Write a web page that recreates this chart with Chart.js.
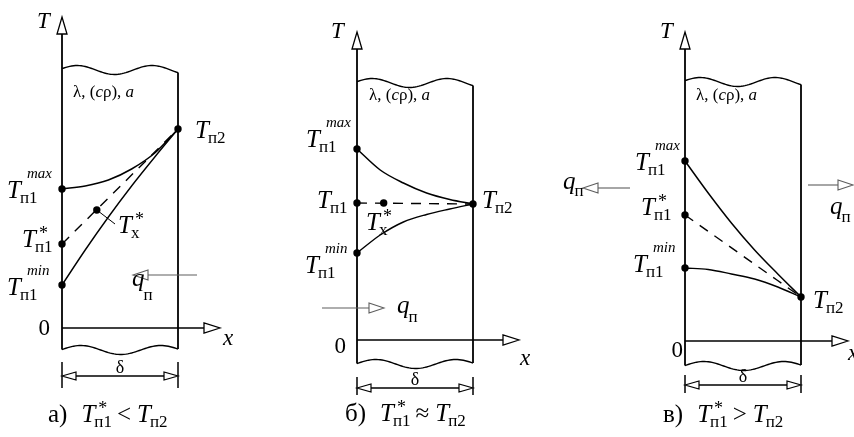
<!DOCTYPE html>
<html>
<head>
<meta charset="utf-8">
<script src="https://cdn.jsdelivr.net/npm/chart.js@4.4.1/dist/chart.umd.min.js"></script>
<style>
  body { margin: 0; background: #fff; width: 854px; height: 437px; overflow: hidden; position: relative; }
  canvas { position: absolute; top: 0; }
</style>
</head>
<body>
<canvas id="pa" width="284" height="437" style="left:0"></canvas>
<canvas id="pb" width="270" height="437" style="left:284px"></canvas>
<canvas id="pc" width="300" height="437" style="left:554px"></canvas>
<script>
// x as a fraction of the wall thickness δ
const xPos = [0, 0.2, 0.4, 0.6, 0.8, 1];

// а) T*п1 < Tп2
const aMaxCurve = [13.9, 14.2, 14.8, 15.9, 17.5, 19.9];
const aMinCurve = [4.3, 7.8, 11.1, 14.2, 17.1, 19.9];
const aStarLine = [8.4, 19.9];
const aTx = [0.3, 11.8];

// б) T*п1 ≈ Tп2
const bMaxCurve = [19.1, 17.0, 15.7, 14.7, 14.05, 13.6];
const bMinCurve = [8.7, 10.5, 11.8, 12.55, 13.1, 13.6];
const bStarLine = [13.7, 13.6];
const bTx = [0.23, 13.7];

// в) T*п1 > Tп2
const cMaxCurve = [18.0, 14.8, 11.8, 9.1, 6.7, 4.4];
const cMinCurve = [7.3, 7.15, 6.7, 6.2, 5.4, 4.4];
const cStarLine = [12.6, 4.4];

const SERIF = '"Liberation Serif", "Times New Roman", serif';
const GREY = '#5e5e5e';

function waveY(yc, t, amp, cycles, phase) {
  return yc - amp * Math.sin(2 * Math.PI * cycles * t + phase);
}

function wave(ctx, x0, x1, yc, amp, cycles, phase) {
  ctx.beginPath();
  for (let i = 0; i <= 60; i++) {
    const t = i / 60;
    const x = x0 + (x1 - x0) * t, y = waveY(yc, t, amp, cycles, phase);
    i ? ctx.lineTo(x, y) : ctx.moveTo(x, y);
  }
  ctx.stroke();
}

function seg(ctx, x0, y0, x1, y1) {
  ctx.beginPath();
  ctx.moveTo(x0, y0);
  ctx.lineTo(x1, y1);
  ctx.stroke();
}

// hollow arrow head, tip at (tx, ty); (ux, uy) points toward the tip
function head(ctx, tx, ty, ux, uy, len, half) {
  const bx = tx - ux * len, by = ty - uy * len;
  ctx.beginPath();
  ctx.moveTo(tx, ty);
  ctx.lineTo(bx - uy * half, by + ux * half);
  ctx.lineTo(bx + uy * half, by - ux * half);
  ctx.closePath();
  ctx.fillStyle = '#fff';
  ctx.fill();
  ctx.stroke();
}

// italic letter with optional superscript and subscript, returns right edge
function sym(ctx, x, y, main, sup, sub, subDy) {
  ctx.font = `italic 25px ${SERIF}`;
  ctx.fillText(main, x, y);
  const w = ctx.measureText(main).width;
  let end = x + w;
  if (sup) {
    const star = sup === '*';
    ctx.font = star ? `18px ${SERIF}` : `italic 15px ${SERIF}`;
    const sx = x + w + (star ? 3 : 6);
    ctx.fillText(sup, sx, y + (star ? -8 : -20));
    end = Math.max(end, sx + ctx.measureText(sup).width);
  }
  if (sub) {
    ctx.font = `17px ${SERIF}`;
    const sx = x + w - 1;
    ctx.fillText(sub, sx, y + (subDy == null ? 5 : subDy));
    end = Math.max(end, sx + ctx.measureText(sub).width);
  }
  return end;
}

function makeDecor(d) {
  return {
    id: 'decor',
    beforeDatasetsDraw(chart) {
      const ctx = chart.ctx;
      const { left: L, right: R, top: Tp, bottom: B } = chart.chartArea;
      const wb = B + d.waveBottom;
      ctx.save();
      ctx.strokeStyle = '#000';
      ctx.lineWidth = 1.4;
      wave(ctx, L, R, Tp, 4.5, 1.55, 0.3);
      wave(ctx, L, R, wb, 4.5, 1.45, 0.1);
      ctx.lineWidth = 1.8;
      // T axis along the left face
      seg(ctx, L, waveY(wb, 0, 4.5, 1.45, 0.1), L, B + d.tTip + 17);
      ctx.lineWidth = 1.3;
      head(ctx, L, B + d.tTip, 0, -1, 17, 5);
      ctx.lineWidth = 1.8;
      // right face
      seg(ctx, R, waveY(Tp, 1, 4.5, 1.55, 0.3), R, waveY(wb, 1, 4.5, 1.45, 0.1));
      // x axis
      ctx.lineWidth = 1.5;
      seg(ctx, L, B, L + d.xTip - 16, B);
      ctx.lineWidth = 1.3;
      head(ctx, L + d.xTip, B, 1, 0, 16, 5);
      // thickness δ
      ctx.lineWidth = 1.5;
      seg(ctx, L, B + d.dimTop, L, B + d.dimBottom);
      seg(ctx, R, B + d.dimTop, R, B + d.dimBottom);
      seg(ctx, L + 14, B + d.dim, R - 14, B + d.dim);
      ctx.lineWidth = 1.2;
      head(ctx, L, B + d.dim, -1, 0, 14, 4);
      head(ctx, R, B + d.dim, 1, 0, 14, 4);
      // heat flux arrows
      ctx.strokeStyle = GREY;
      ctx.lineWidth = 1.1;
      d.flux.forEach(f => {
        const dir = Math.sign(f.tip - f.from);
        seg(ctx, L + f.from, B + f.dy, L + f.tip - dir * 15, B + f.dy);
        head(ctx, L + f.tip, B + f.dy, dir, 0, 15, 5);
      });
      ctx.restore();
    },
    afterDatasetsDraw(chart) {
      const ctx = chart.ctx;
      const { left: L, right: R, bottom: B } = chart.chartArea;
      const sx = chart.scales.x, sy = chart.scales.y;
      ctx.save();
      ctx.fillStyle = '#000';
      ctx.strokeStyle = '#000';
      ctx.textBaseline = 'alphabetic';

      if (d.leader) {
        ctx.lineWidth = 1;
        seg(ctx, sx.getPixelForValue(d.leader.x), sy.getPixelForValue(d.leader.y),
          L + d.leader.dx, B + d.leader.dy);
      }

      ctx.font = `italic 23px ${SERIF}`;
      ctx.fillText('T', L + d.axisT[0], B + d.axisT[1]);
      ctx.fillText('x', L + d.xLabel[0], B + d.xLabel[1]);
      ctx.font = `23px ${SERIF}`;
      ctx.textAlign = 'right';
      ctx.fillText('0', L + d.zero[0], B + d.zero[1]);
      ctx.textAlign = 'center';
      ctx.font = `18px ${SERIF}`;
      ctx.fillText('δ', (L + R) / 2, B + d.dim - 3);
      ctx.textAlign = 'left';

      // material properties
      let x = L + d.props[0];
      const py = B + d.props[1];
      [['λ, (', ''], ['c', 'italic '], ['ρ), ', ''], ['a', 'italic ']].forEach(([t, st]) => {
        ctx.font = `${st}17px ${SERIF}`;
        ctx.fillText(t, x, py);
        x += ctx.measureText(t).width;
      });

      d.labels.forEach(l => sym(ctx, L + l.dx, B + l.dy, l.main || 'T', l.sup, l.sub, l.subDy));

      // caption
      ctx.font = `25px ${SERIF}`;
      let cx = L + d.caption.dx;
      const cy = B + d.caption.dy;
      ctx.fillText(d.caption.tag, cx, cy);
      cx += ctx.measureText(d.caption.tag).width + 14;
      cx = sym(ctx, cx, cy, 'T', '*', 'п1', 5) + 5;
      ctx.font = `25px ${SERIF}`;
      ctx.fillText(d.caption.rel, cx, cy);
      cx += ctx.measureText(d.caption.rel).width + 6;
      sym(ctx, cx, cy, 'T', null, 'п2', 5);
      ctx.restore();
    }
  };
}

function makePanel(id, cfg) {
  const curve = arr => xPos.map((x, i) => ({ x, y: arr[i] }));
  const pts = [
    { x: 0, y: cfg.max[0] }, { x: 0, y: cfg.min[0] },
    { x: 0, y: cfg.star[0] }, { x: 1, y: cfg.star[1] }
  ];
  if (cfg.tx) pts.push({ x: cfg.tx[0], y: cfg.tx[1] });
  const lineStyle = { showLine: true, pointRadius: 0, borderColor: '#000', clip: false,
    cubicInterpolationMode: 'monotone' };
  return new Chart(document.getElementById(id), {
    type: 'scatter',
    data: {
      datasets: [
        { ...lineStyle, data: curve(cfg.max), borderWidth: 1.5 },
        { ...lineStyle, data: curve(cfg.min), borderWidth: 1.4 },
        { ...lineStyle, data: [{ x: 0, y: cfg.star[0] }, { x: 1, y: cfg.star[1] }],
          borderWidth: 1.4, borderDash: [10, 8] },
        { data: pts, pointRadius: 3.7, pointBackgroundColor: '#000', pointBorderWidth: 0,
          clip: false }
      ]
    },
    options: {
      responsive: false,
      animation: false,
      events: [],
      layout: { padding: cfg.pad },
      scales: {
        x: { type: 'linear', min: 0, max: 1, display: false },
        y: { type: 'linear', min: 0, max: cfg.yMax, display: false }
      },
      plugins: { legend: { display: false }, tooltip: { enabled: false } }
    },
    plugins: [makeDecor(cfg.decor)]
  });
}

makePanel('pa', {
  pad: { left: 62, right: 106, top: 70, bottom: 109 }, yMax: 25.8,
  max: aMaxCurve, min: aMinCurve, star: aStarLine, tx: aTx,
  decor: {
    waveBottom: 22, tTip: -311, xTip: 158, dim: 48, dimTop: 34, dimBottom: 60,
    axisT: [-25, -300], xLabel: [161, 17], zero: [-12, 7], props: [11, -231],
    flux: [{ from: 135, tip: 71, dy: -53 }],
    leader: { x: aTx[0], y: aTx[1], dx: 53, dy: -104 },
    labels: [
      { dx: -55, dy: -130, sup: 'max', sub: 'п1' },
      { dx: -40, dy: -81, sup: '*', sub: 'п1' },
      { dx: -55, dy: -33, sup: 'min', sub: 'п1' },
      { dx: 133, dy: -190, sub: 'п2' },
      { dx: 56, dy: -95, sup: '*', sub: 'x' },
      { dx: 70, dy: -42, main: 'q', sub: 'п', subDy: 14 }
    ],
    caption: { dx: -14, dy: 94, tag: 'а)', rel: '<' }
  }
});

makePanel('pb', {
  pad: { left: 73, right: 81, top: 83, bottom: 97 }, yMax: 25.7,
  max: bMaxCurve, min: bMinCurve, star: bStarLine, tx: bTx,
  decor: {
    waveBottom: 24, tTip: -308, xTip: 162, dim: 48, dimTop: 37, dimBottom: 55,
    axisT: [-26, -302], xLabel: [163, 25], zero: [-11, 13], props: [12, -240],
    flux: [{ from: -35, tip: 27, dy: -32 }],
    labels: [
      { dx: -51, dy: -193, sup: 'max', sub: 'п1' },
      { dx: -40, dy: -132, sub: 'п1' },
      { dx: -52, dy: -67, sup: 'min', sub: 'п1' },
      { dx: 125, dy: -132, sub: 'п2' },
      { dx: 9, dy: -110, sup: '*', sub: 'x' },
      { dx: 40, dy: -27, main: 'q', sub: 'п', subDy: 9 }
    ],
    caption: { dx: -12, dy: 81, tag: 'б)', rel: '≈' }
  }
});

makePanel('pc', {
  pad: { left: 131, right: 53, top: 82, bottom: 96 }, yMax: 25.9,
  max: cMaxCurve, min: cMinCurve, star: cStarLine,
  decor: {
    waveBottom: 25, tTip: -309, xTip: 163, dim: 44, dimTop: 34, dimBottom: 52,
    axisT: [-25, -303], xLabel: [163, 19], zero: [-2, 16], props: [11, -241],
    flux: [{ from: -55, tip: -102, dy: -153 }, { from: 123, tip: 168, dy: -156 }],
    labels: [
      { dx: -50, dy: -171, sup: 'max', sub: 'п1' },
      { dx: -44, dy: -126, sup: '*', sub: 'п1' },
      { dx: -52, dy: -69, sup: 'min', sub: 'п1' },
      { dx: 128, dy: -33, sub: 'п2' },
      { dx: -122, dy: -152, main: 'q', sub: 'п', subDy: 7 },
      { dx: 145, dy: -127, main: 'q', sub: 'п', subDy: 8 }
    ],
    caption: { dx: -22, dy: 81, tag: 'в)', rel: '>' }
  }
});
</script>
</body>
</html>
